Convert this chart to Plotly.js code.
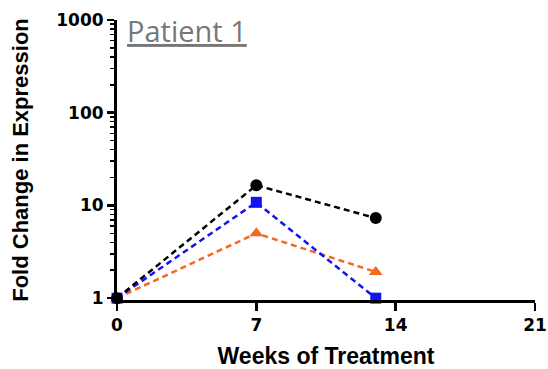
<!DOCTYPE html>
<html><head><meta charset="utf-8">
<script src="https://cdn.plot.ly/plotly-3.0.1.min.js"></script>
<style>html,body{margin:0;padding:0;background:#fff}#chart{width:548px;height:369px}</style>
</head><body><div id="chart"></div>
<script>
const weeks = [0, 7, 13];
const seriesBlack = [1, 16.5, 7.3];
const seriesBlue = [1, 10.8, 1];
const seriesOrange = [1, 5.0, 1.92];
const xTicks = [0, 7, 14, 21];
const yTickVals = [1, 10, 100, 1000];
const yTickText = ["1", "10", "100", "1000"];
const yMinorVals = [2,3,4,5,6,7,8,9,20,30,40,50,60,70,80,90,200,300,400,500,600,700,800,900];

function tr(y, color, symbol, size) {
  return {x: weeks, y: y, type: 'scatter', mode: 'lines+markers', cliponaxis: false,
    line: {color: color, width: 2.5, dash: '6px,4px'},
    marker: {color: color, symbol: symbol, size: size}};
}
const data = [
  tr(seriesOrange, '#f26a21', 'triangle-up', 12),
  tr(seriesBlue, '#1414f0', 'square', 11),
  tr(seriesBlack, '#000000', 'circle', 12)
];
const tickFont = {size: 17, family: 'DejaVu Sans, sans-serif', weight: 'bold', color: '#000'};
const layout = {
  width: 548, height: 369, showlegend: false,
  margin: {l: 117, r: 13, t: 20, b: 69},
  paper_bgcolor: '#fff', plot_bgcolor: '#fff',
  font: {family: 'Liberation Sans, Arial, sans-serif', color: '#000'},
  xaxis: {range: [0, 21], tickvals: xTicks, showgrid: false, zeroline: false, ticklabeloverflow: 'allow',
    showline: true, linewidth: 3, linecolor: '#000', ticks: 'outside', ticklen: 8, tickwidth: 2.5, tickcolor: '#000',
    tickfont: tickFont,
    title: {text: '<b>Weeks of Treatment</b>', font: {size: 23}, standoff: 14}},
  yaxis: {type: 'log', range: [-0.02, 3], tickvals: yTickVals, ticktext: yTickText, showgrid: false, zeroline: false,
    showline: true, linewidth: 3, linecolor: '#000', ticks: 'outside', ticklen: 7, tickwidth: 2.5, tickcolor: '#000',
    tickfont: tickFont,
    minor: {tickvals: yMinorVals, ticks: 'outside', ticklen: 4, tickwidth: 1.5, tickcolor: '#000', showgrid: false},
    title: {text: '<b>Fold Change in Expression</b>', font: {size: 22}, standoff: 22}},
  annotations: [{xref: 'paper', yref: 'paper', x: 0.018, y: 0.962, xanchor: 'left', yanchor: 'middle',
    text: '<u>Patient 1</u>', showarrow: false, font: {family: 'Open Sans, sans-serif', size: 29, color: '#777777'}}]
};
Plotly.newPlot('chart', data, layout, {displayModeBar: false, staticPlot: true});
</script></body></html>
